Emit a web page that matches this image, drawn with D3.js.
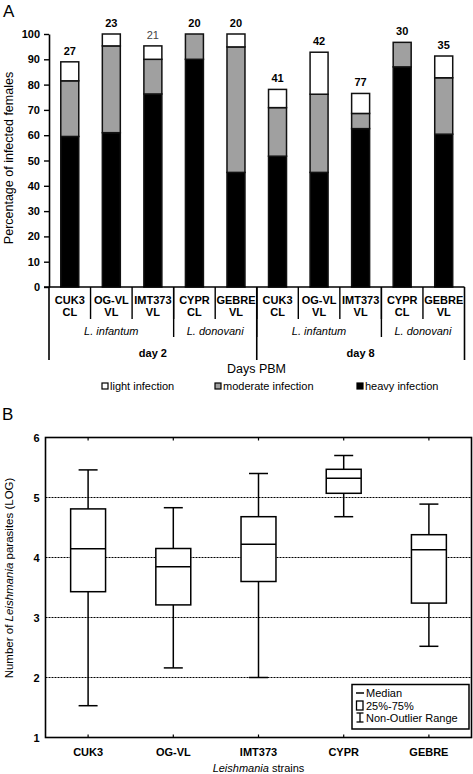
<!DOCTYPE html>
<html><head><meta charset="utf-8">
<script src="https://cdn.jsdelivr.net/npm/d3@7"></script>
<style>body{margin:0;background:#fff}svg{display:block;font-family:"Liberation Sans",Arial,sans-serif}</style>
</head><body><svg id="c" width="473" height="774"></svg>
<script>
// ---- Panel A data ----
const strainsA = ["CUK3","OG-VL","IMT373","CYPR","GEBRE","CUK3","OG-VL","IMT373","CYPR","GEBRE"];
const typesA   = ["CL","VL","VL","CL","VL","CL","VL","VL","CL","VL"];
const speciesGroups = ["L. infantum","L. donovani","L. infantum","L. donovani"];
const speciesSpans  = [3,2,3,2];
const dayGroups = ["day 2","day 8"];
const daySpans  = [5,5];
const heavy    = [59.5, 61.0, 76.3, 90.0, 45.3, 51.7, 45.3, 62.6, 87.0, 60.4];
const moderate = [22.0, 34.3, 13.7, 10.0, 49.6, 19.2, 30.9, 6.0, 9.7, 22.3];
const light    = [7.5, 4.7, 5.3, 0.0, 5.1, 7.2, 16.6, 7.9, 0.0, 8.6];
const nLabels  = ["27","23","21","20","20","41","42","77","30","35"];
const yTicksA  = [0,10,20,30,40,50,60,70,80,90,100];
const legendA  = ["light infection","moderate infection","heavy infection"];
// ---- Panel B data ----
const strainsB = ["CUK3","OG-VL","IMT373","CYPR","GEBRE"];
const bMin    = [1.53, 2.16, 2.00, 4.68, 2.52];
const bQ1     = [3.43, 3.21, 3.60, 5.07, 3.24];
const bMedian = [4.145, 3.845, 4.22, 5.32, 4.13];
const bQ3     = [4.81, 4.15, 4.68, 5.47, 4.38];
const bMax    = [5.46, 4.83, 5.40, 5.70, 4.89];
const yTicksB = [1,2,3,4,5,6];

const svg = d3.select("#c");
const colors = {heavy:"#000", moderate:"#a0a0a0", light:"#fff"};

// ================= Panel A =================
const xA = d3.scaleBand().domain(d3.range(10)).range([49, 464.5]).paddingInner(0.567).paddingOuter(0.2835);
const yA = d3.scaleLinear().domain([0,100]).range([287, 34]);
const gA = svg.append("g");

svg.append("text").attr("x",3).attr("y",17).attr("font-size",17).text("A");

// y axis
const yAxA = d3.axisLeft(yA).tickValues(yTicksA).tickSize(5).tickSizeOuter(0);
const ya = gA.append("g").attr("transform","translate(49,0)").call(yAxA);
ya.select(".domain").attr("stroke-width",1.6);
ya.selectAll(".tick line").attr("stroke-width",1.4);
ya.selectAll("text").attr("font-size",11).attr("font-weight","bold").attr("fill","#000").attr("dx",-1);

gA.append("text").attr("transform","translate(13,158) rotate(-90)").attr("text-anchor","middle")
  .attr("font-size",12.5).text("Percentage of infected females");

// stacked bars
const stackData = d3.range(10).map(i => ({i, heavy:heavy[i], moderate:moderate[i], light:light[i]}));
const series = d3.stack().keys(["heavy","moderate","light"])(stackData);
series.forEach(s => {
  gA.append("g").selectAll("rect").data(s.filter(d => d[1]-d[0] > 0)).join("rect")
    .attr("x", d => xA(d.data.i)).attr("width", xA.bandwidth())
    .attr("y", d => yA(d[1])).attr("height", d => yA(d[0]) - yA(d[1]))
    .attr("fill", colors[s.key]).attr("stroke","#111").attr("stroke-width",1.5);
});
// N labels
gA.selectAll("text.n").data(d3.range(10)).join("text").attr("class","n")
  .attr("x", i => xA(i) + xA.bandwidth()/2)
  .attr("y", i => yA(heavy[i]+moderate[i]+light[i]) - 7)
  .attr("text-anchor","middle").attr("font-size",11)
  .attr("font-weight", i => nLabels[i]==="21" ? "normal" : "bold")
  .attr("fill", i => nLabels[i]==="21" ? "#444" : "#000")
  .text(i => nLabels[i]);

// x axis baseline
const x0 = 49, xEnd = 464.5;
gA.append("line").attr("x1",44).attr("x2",xEnd).attr("y1",287).attr("y2",287).attr("stroke","#000").attr("stroke-width",1.6);

// category labels
const cat = gA.selectAll("g.cat").data(d3.range(10)).join("g").attr("class","cat")
  .attr("transform", i => `translate(${xA(i)+xA.bandwidth()/2},0)`);
cat.append("text").attr("y",304).attr("text-anchor","middle").attr("font-size",11).attr("font-weight","bold").text(i => strainsA[i]);
cat.append("text").attr("y",316).attr("text-anchor","middle").attr("font-size",11).attr("font-weight","bold").text(i => typesA[i]);

// separators
const boundaryX = k => x0 + (xEnd - x0) * k / 10;
d3.range(1,10).forEach(k => {
  gA.append("line").attr("x1",boundaryX(k)).attr("x2",boundaryX(k)).attr("y1",287).attr("y2",319).attr("stroke","#000").attr("stroke-width",1.4);
});
let acc = 0;
const spStarts = speciesSpans.map(s => { const a = acc; acc += s; return a; });
spStarts.forEach((st,j) => {
  if (st > 0) gA.append("line").attr("x1",boundaryX(st)).attr("x2",boundaryX(st)).attr("y1",287).attr("y2",337).attr("stroke","#000").attr("stroke-width",1.4);
  gA.append("text").attr("x",(boundaryX(st)+boundaryX(st+speciesSpans[j]))/2).attr("y",335)
    .attr("text-anchor","middle").attr("font-size",11).attr("font-style","italic").text(speciesGroups[j]);
});
acc = 0;
const dStarts = daySpans.map(s => { const a = acc; acc += s; return a; });
dStarts.forEach((st,j) => {
  gA.append("line").attr("x1",boundaryX(st)).attr("x2",boundaryX(st)).attr("y1",287).attr("y2",360).attr("stroke","#000").attr("stroke-width",1.6);
  gA.append("text").attr("x",(boundaryX(st)+boundaryX(st+daySpans[j]))/2).attr("y",357)
    .attr("text-anchor","middle").attr("font-size",11).attr("font-weight","bold").text(dayGroups[j]);
});
gA.append("line").attr("x1",xEnd).attr("x2",xEnd).attr("y1",287).attr("y2",360).attr("stroke","#000").attr("stroke-width",1.6);

gA.append("text").attr("x",256.5).attr("y",373).attr("text-anchor","middle").attr("font-size",12.5).text("Days PBM");

// legend A
const legX = [102, 215, 357];
const legKeys = ["light","moderate","heavy"];
legendA.forEach((t,j) => {
  gA.append("rect").attr("x",legX[j]).attr("y",383).attr("width",6).attr("height",6)
    .attr("fill",colors[legKeys[j]]).attr("stroke","#000").attr("stroke-width",1.2);
  gA.append("text").attr("x",legX[j]+8).attr("y",390).attr("font-size",11).text(t);
});

// ================= Panel B =================
const xB = d3.scaleBand().domain(strainsB).range([45.5, 471.5]).paddingInner(0.59).paddingOuter(0.295);
const yB = d3.scaleLinear().domain([1,6]).range([737.5, 437.5]);
const gB = svg.append("g");
svg.append("text").attr("x",2).attr("y",420).attr("font-size",17).text("B");

gB.selectAll("line.grid").data([2,3,4,5]).join("line").attr("class","grid")
  .attr("x1",45.5).attr("x2",471.5).attr("y1",d=>yB(d)).attr("y2",d=>yB(d))
  .attr("stroke","#000").attr("stroke-width",1).attr("stroke-dasharray","2,1");

gB.append("rect").attr("x",45.5).attr("y",437.5).attr("width",426).attr("height",300)
  .attr("fill","none").attr("stroke","#000").attr("stroke-width",1.6);

const yb = gB.append("g").attr("transform","translate(45.5,0)")
  .call(d3.axisLeft(yB).tickValues(yTicksB).tickFormat(d3.format("d")).tickSize(0).tickPadding(6));
yb.select(".domain").remove();
yb.selectAll("text").attr("font-size",11).attr("font-weight","bold").attr("fill","#000");

const xb = gB.append("g").attr("transform","translate(0,737.5)").call(d3.axisBottom(xB).tickSize(-3).tickPadding(11));
xb.select(".domain").remove();
xb.selectAll(".tick line").attr("stroke-width",1.2);
xb.selectAll("text").attr("font-size",11).attr("font-weight","bold").attr("fill","#000");
const xt = gB.append("g").attr("transform","translate(0,437.5)").call(d3.axisTop(xB).tickSize(-3).tickFormat(""));
xt.select(".domain").remove();
xt.selectAll(".tick line").attr("stroke-width",1.2);

const boxes = strainsB.map((s,i) => ({s, min:bMin[i], q1:bQ1[i], med:bMedian[i], q3:bQ3[i], max:bMax[i]}));
const bw = xB.bandwidth(), cap = 19;
const bg = gB.selectAll("g.box").data(boxes).join("g").attr("class","box")
  .attr("transform", d => `translate(${xB(d.s)+bw/2},0)`);
bg.append("line").attr("y1",d=>yB(d.max)).attr("y2",d=>yB(d.q3)).attr("stroke","#000").attr("stroke-width",1.5);
bg.append("line").attr("y1",d=>yB(d.q1)).attr("y2",d=>yB(d.min)).attr("stroke","#000").attr("stroke-width",1.5);
bg.append("line").attr("x1",-cap/2).attr("x2",cap/2).attr("y1",d=>yB(d.max)).attr("y2",d=>yB(d.max)).attr("stroke","#000").attr("stroke-width",1.5);
bg.append("line").attr("x1",-cap/2).attr("x2",cap/2).attr("y1",d=>yB(d.min)).attr("y2",d=>yB(d.min)).attr("stroke","#000").attr("stroke-width",1.5);
bg.append("rect").attr("x",-bw/2).attr("width",bw).attr("y",d=>yB(d.q3)).attr("height",d=>yB(d.q1)-yB(d.q3))
  .attr("fill","#fff").attr("stroke","#000").attr("stroke-width",1.5);
bg.append("line").attr("x1",-bw/2).attr("x2",bw/2).attr("y1",d=>yB(d.med)).attr("y2",d=>yB(d.med)).attr("stroke","#000").attr("stroke-width",1.5);

const yt = gB.append("text").attr("transform","translate(13,578) rotate(-90)").attr("text-anchor","middle").attr("font-size",11.5);
yt.append("tspan").text("Number of ");
yt.append("tspan").attr("font-style","italic").text("Leishmania");
yt.append("tspan").text(" parasites (LOG)");
const xtt = gB.append("text").attr("x",258.5).attr("y",772).attr("text-anchor","middle").attr("font-size",11);
xtt.append("tspan").attr("font-style","italic").text("Leishmania");
xtt.append("tspan").text(" strains");

const lg = gB.append("g");
lg.append("rect").attr("x",352).attr("y",684.5).attr("width",117).attr("height",44.5).attr("fill","#fff").attr("stroke","#000").attr("stroke-width",1.5);
const legB = ["Median","25%-75%","Non-Outlier Range"];
const legBy = [697, 709.5, 722];
legB.forEach((t,j) => lg.append("text").attr("x",366).attr("y",legBy[j]).attr("font-size",11).text(t));
lg.append("line").attr("x1",356).attr("x2",364).attr("y1",693).attr("y2",693).attr("stroke","#000").attr("stroke-width",1.5);
lg.append("rect").attr("x",356.5).attr("y",701).attr("width",6.5).attr("height",9).attr("fill","none").attr("stroke","#000").attr("stroke-width",1.3);
lg.append("line").attr("x1",360).attr("x2",360).attr("y1",713).attr("y2",722).attr("stroke","#000").attr("stroke-width",1.3);
lg.append("line").attr("x1",356.5).attr("x2",363.5).attr("y1",713).attr("y2",713).attr("stroke","#000").attr("stroke-width",1.3);
lg.append("line").attr("x1",356.5).attr("x2",363.5).attr("y1",722).attr("y2",722).attr("stroke","#000").attr("stroke-width",1.3);
</script></body></html>
